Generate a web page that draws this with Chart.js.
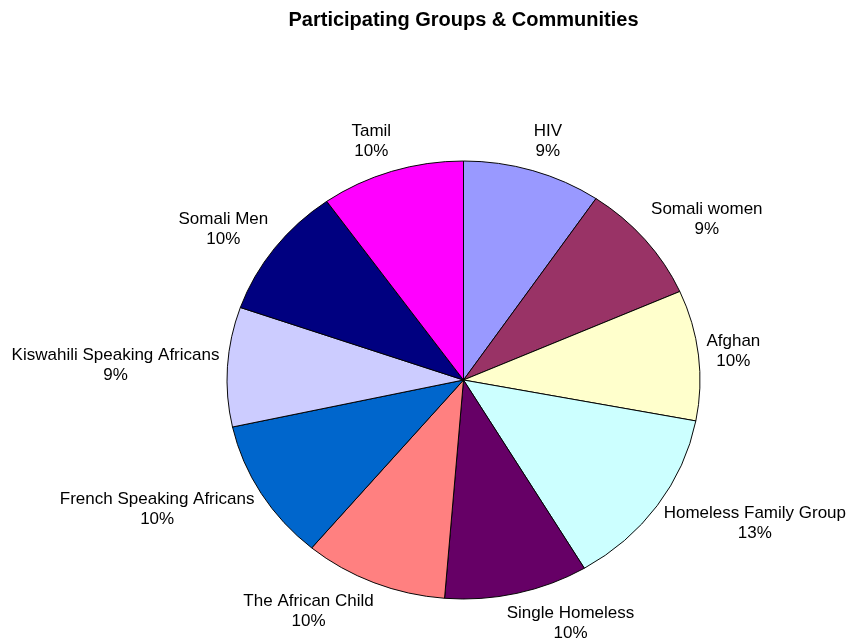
<!DOCTYPE html>
<html>
<head>
<meta charset="utf-8">
<title>Participating Groups &amp; Communities</title>
<script src="https://cdn.jsdelivr.net/npm/chart.js@4.4.1/dist/chart.umd.min.js"></script>
<style>
  html, body { margin: 0; padding: 0; background: #fff; }
  canvas { display: block; }
</style>
</head>
<body>
<canvas id="chart" width="846" height="641"></canvas>
<script>
// groups, clockwise from the top
const groups = ['HIV', 'Somali women', 'Afghan', 'Homeless Family Group', 'Single Homeless',
  'The African Child', 'French Speaking Africans', 'Kiswahili Speaking Africans', 'Somali Men', 'Tamil'];
const shares = [9.45, 8.9, 9.6, 13.45, 9.8, 9.8, 10.45, 8.8, 9.8, 9.8];
const sliceColors = ['#9999FF', '#993366', '#FFFFCC', '#CCFFFF', '#660066',
  '#FF8080', '#0066CC', '#CCCCFF', '#000080', '#FF00FF'];

// pie is drawn a little flatter than a circle
const squash = 0.926;

const ovalPie = {
  id: 'ovalPie',
  beforeDatasetsDraw(chart) {
    const arc = chart.getDatasetMeta(0).data[0];
    const ctx = chart.ctx;
    ctx.save();
    ctx.translate(arc.x, arc.y);
    ctx.scale(1, squash);
    ctx.translate(-arc.x, -arc.y);
  },
  afterDatasetsDraw(chart) {
    chart.ctx.restore();
  }
};

// group name and percentage just outside each slice;
// the text box swings to the left or right side of the slice's edge point
const sliceLabels = {
  id: 'sliceLabels',
  afterDraw(chart) {
    const ctx = chart.ctx;
    const meta = chart.getDatasetMeta(0);
    const total = shares.reduce((a, b) => a + b, 0);
    const gapX = 8;
    const gapY = 11;
    const lineH = 20;
    ctx.save();
    ctx.font = '17px "Liberation Sans", Arial, sans-serif';
    ctx.fillStyle = '#000';
    ctx.textAlign = 'center';
    ctx.textBaseline = 'middle';
    meta.data.forEach((arc, i) => {
      const mid = (arc.startAngle + arc.endAngle) / 2;
      const ux = Math.cos(mid);
      const uy = Math.sin(mid);
      const rx = arc.outerRadius;
      const ry = arc.outerRadius * squash;
      const lines = [groups[i], Math.round(shares[i] / total * 100) + '%'];
      const w = Math.max(...lines.map(t => ctx.measureText(t).width));
      const h = lineH * lines.length;
      const x = arc.x + rx * ux + ux * gapX + Math.tanh(5 * ux) * w / 2;
      const y = arc.y + ry * uy + uy * (gapY + h / 2);
      lines.forEach((t, k) => ctx.fillText(t, x, y - h / 2 + lineH * (k + 0.5)));
    });
    ctx.restore();
  }
};

const chartData = {
  labels: groups,
  datasets: [{
    data: shares,
    backgroundColor: sliceColors,
    borderColor: '#000',
    borderWidth: 1,
    radius: 236.5,
    clip: false
  }]
};

const chartOption = {
  responsive: false,
  animation: false,
  layout: {
    padding: { left: 81, right: 0, top: 0, bottom: 0 }
  },
  plugins: {
    legend: { display: false },
    tooltip: { enabled: false },
    title: {
      display: true,
      text: 'Participating Groups & Communities',
      color: '#000',
      font: { family: '"Liberation Sans", Arial, sans-serif', size: 20, weight: 'bold' },
      padding: { top: 8, bottom: 87 }
    }
  }
};

new Chart(document.getElementById('chart'), {
  type: 'pie',
  data: chartData,
  options: chartOption,
  plugins: [ovalPie, sliceLabels]
});
</script>
</body>
</html>
